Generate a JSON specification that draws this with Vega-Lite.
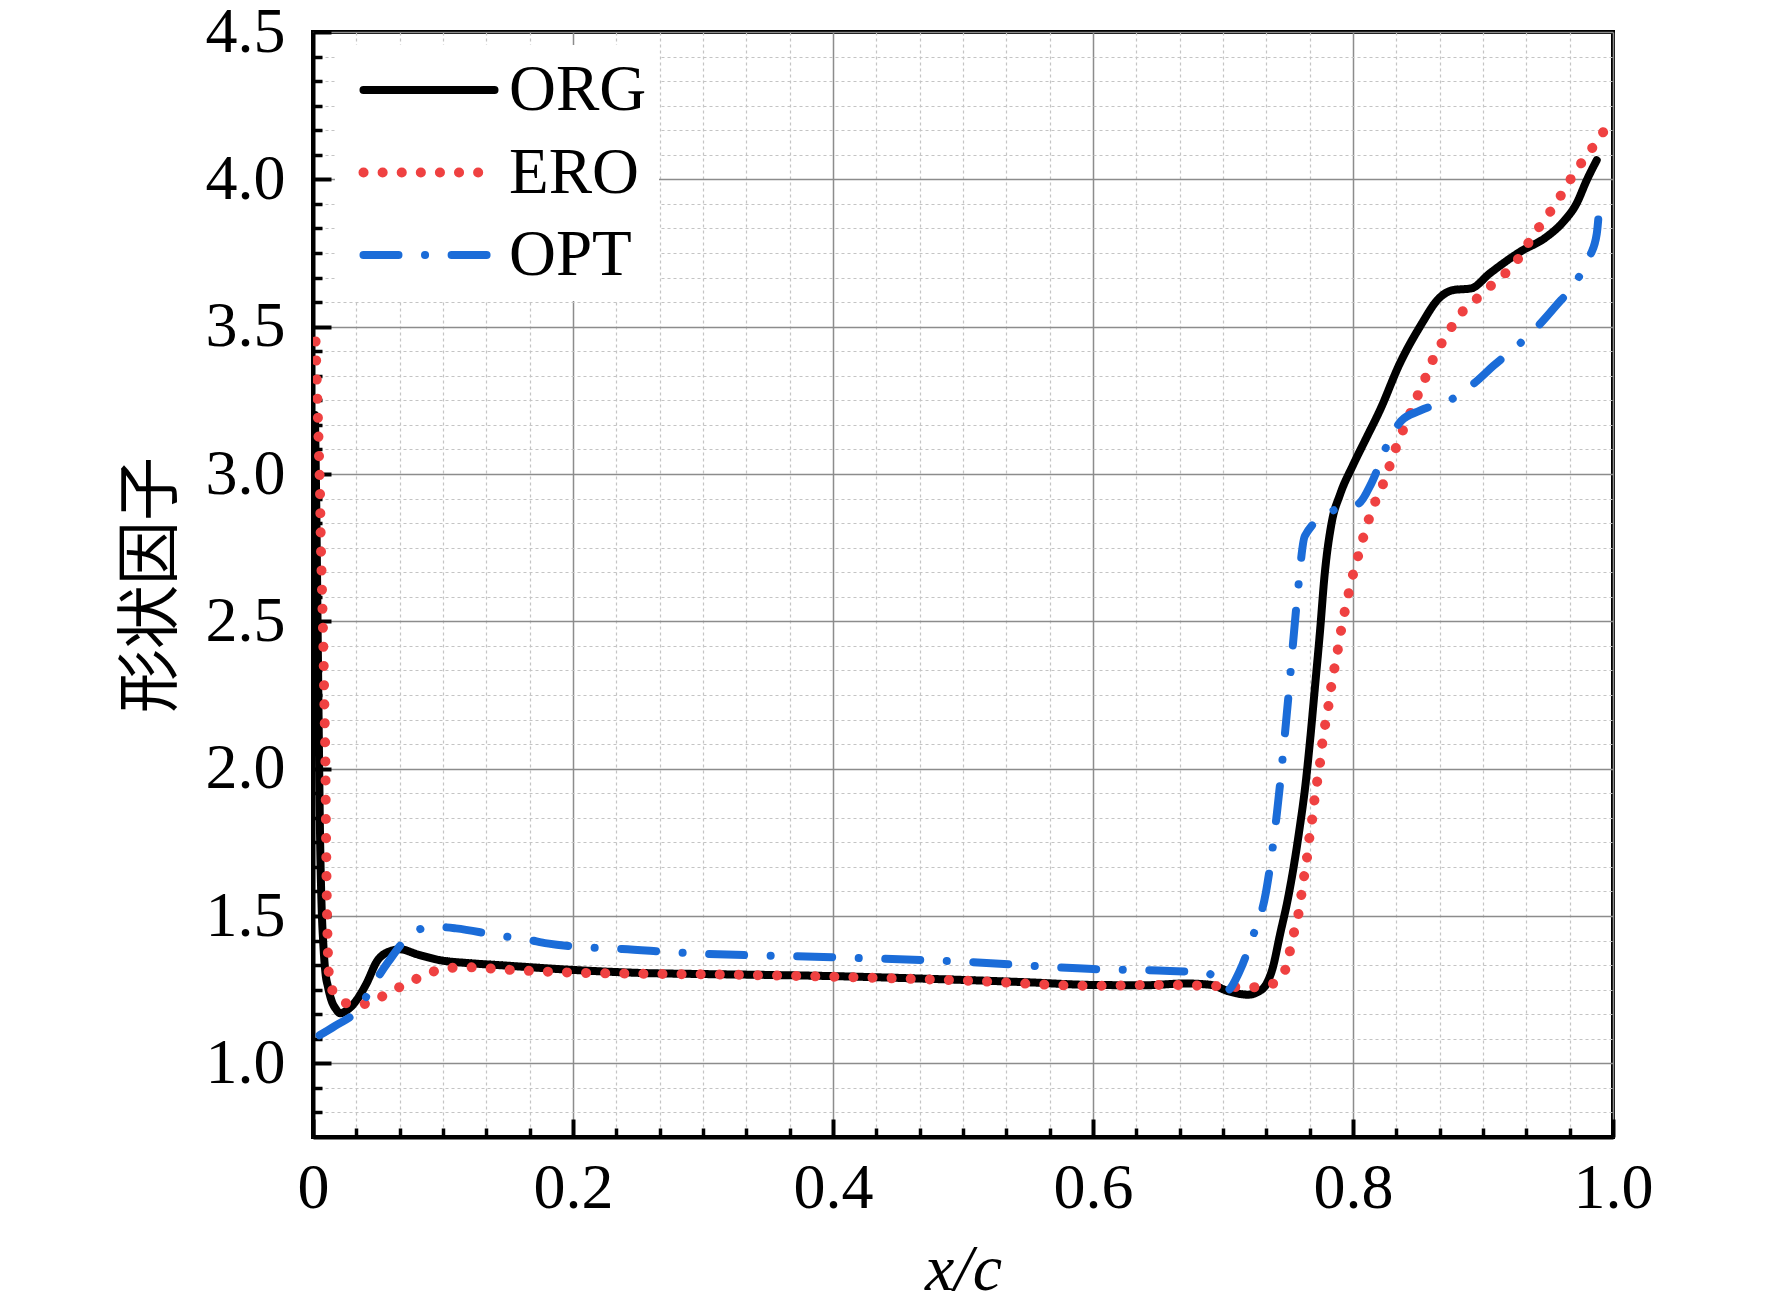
{
  "$schema": "https://vega.github.io/schema/vega-lite/v6.json",
  "width": 1300,
  "height": 1105,
  "autosize": {"type": "none"},
  "padding": {"left": 313, "top": 32, "right": 159, "bottom": 173},
  "background": "white",
  "config": {
    "view": {"stroke": "black", "strokeWidth": 4},
    "axis": {
      "labelFont": "Liberation Serif",
      "labelFontSize": 64,
      "labelColor": "black",
      "labelFlush": false,
      "labelOverlap": false,
      "tickColor": "black",
      "titleColor": "black",
      "titleFontWeight": "normal",
      "zindex": 0
    }
  },
  "data": {
    "values": [
      {"series": "ORG", "x": 0.0015, "y": 3.2},
      {"series": "ORG", "x": 0.0025, "y": 2.9},
      {"series": "ORG", "x": 0.0035, "y": 2.5},
      {"series": "ORG", "x": 0.0045, "y": 2.1},
      {"series": "ORG", "x": 0.0055, "y": 1.75},
      {"series": "ORG", "x": 0.0065, "y": 1.55},
      {"series": "ORG", "x": 0.008, "y": 1.4},
      {"series": "ORG", "x": 0.0095, "y": 1.31},
      {"series": "ORG", "x": 0.0115, "y": 1.26},
      {"series": "ORG", "x": 0.0145, "y": 1.21},
      {"series": "ORG", "x": 0.0175, "y": 1.185},
      {"series": "ORG", "x": 0.021, "y": 1.17},
      {"series": "ORG", "x": 0.026, "y": 1.18},
      {"series": "ORG", "x": 0.0336, "y": 1.215},
      {"series": "ORG", "x": 0.0413, "y": 1.272},
      {"series": "ORG", "x": 0.049, "y": 1.345},
      {"series": "ORG", "x": 0.059, "y": 1.38},
      {"series": "ORG", "x": 0.067, "y": 1.387},
      {"series": "ORG", "x": 0.08, "y": 1.37},
      {"series": "ORG", "x": 0.0977, "y": 1.35},
      {"series": "ORG", "x": 0.12, "y": 1.34},
      {"series": "ORG", "x": 0.144, "y": 1.333},
      {"series": "ORG", "x": 0.2, "y": 1.317},
      {"series": "ORG", "x": 0.25, "y": 1.307},
      {"series": "ORG", "x": 0.3, "y": 1.303},
      {"series": "ORG", "x": 0.35, "y": 1.3},
      {"series": "ORG", "x": 0.4, "y": 1.296},
      {"series": "ORG", "x": 0.45, "y": 1.29},
      {"series": "ORG", "x": 0.5, "y": 1.283},
      {"series": "ORG", "x": 0.55, "y": 1.275},
      {"series": "ORG", "x": 0.6, "y": 1.266},
      {"series": "ORG", "x": 0.64, "y": 1.265},
      {"series": "ORG", "x": 0.671, "y": 1.271},
      {"series": "ORG", "x": 0.691, "y": 1.266},
      {"series": "ORG", "x": 0.704, "y": 1.245},
      {"series": "ORG", "x": 0.719, "y": 1.233},
      {"series": "ORG", "x": 0.728, "y": 1.245},
      {"series": "ORG", "x": 0.7335, "y": 1.27},
      {"series": "ORG", "x": 0.738, "y": 1.32},
      {"series": "ORG", "x": 0.744, "y": 1.44},
      {"series": "ORG", "x": 0.75, "y": 1.56},
      {"series": "ORG", "x": 0.759, "y": 1.8},
      {"series": "ORG", "x": 0.7635, "y": 1.948},
      {"series": "ORG", "x": 0.767, "y": 2.097},
      {"series": "ORG", "x": 0.7708, "y": 2.28},
      {"series": "ORG", "x": 0.7746, "y": 2.465},
      {"series": "ORG", "x": 0.778, "y": 2.65},
      {"series": "ORG", "x": 0.7836, "y": 2.835},
      {"series": "ORG", "x": 0.79, "y": 2.93},
      {"series": "ORG", "x": 0.8, "y": 3.03},
      {"series": "ORG", "x": 0.81, "y": 3.12},
      {"series": "ORG", "x": 0.8208, "y": 3.217},
      {"series": "ORG", "x": 0.836, "y": 3.375},
      {"series": "ORG", "x": 0.8515, "y": 3.5},
      {"series": "ORG", "x": 0.867, "y": 3.6},
      {"series": "ORG", "x": 0.877, "y": 3.624},
      {"series": "ORG", "x": 0.891, "y": 3.63},
      {"series": "ORG", "x": 0.905, "y": 3.68},
      {"series": "ORG", "x": 0.9285, "y": 3.754},
      {"series": "ORG", "x": 0.949, "y": 3.805},
      {"series": "ORG", "x": 0.9618, "y": 3.856},
      {"series": "ORG", "x": 0.972, "y": 3.918},
      {"series": "ORG", "x": 0.9798, "y": 3.997},
      {"series": "ORG", "x": 0.9875, "y": 4.065},

      {"series": "ERO", "x": 0.002, "y": 3.45},
      {"series": "ERO", "x": 0.0033, "y": 3.26},
      {"series": "ERO", "x": 0.0046, "y": 3.066},
      {"series": "ERO", "x": 0.0054, "y": 2.935},
      {"series": "ERO", "x": 0.0059, "y": 2.8},
      {"series": "ERO", "x": 0.0069, "y": 2.61},
      {"series": "ERO", "x": 0.0079, "y": 2.43},
      {"series": "ERO", "x": 0.0087, "y": 2.23},
      {"series": "ERO", "x": 0.0095, "y": 2.03},
      {"series": "ERO", "x": 0.01, "y": 1.79},
      {"series": "ERO", "x": 0.0105, "y": 1.59},
      {"series": "ERO", "x": 0.011, "y": 1.46},
      {"series": "ERO", "x": 0.0118, "y": 1.337},
      {"series": "ERO", "x": 0.013, "y": 1.27},
      {"series": "ERO", "x": 0.017, "y": 1.235},
      {"series": "ERO", "x": 0.0228, "y": 1.21},
      {"series": "ERO", "x": 0.03, "y": 1.2},
      {"series": "ERO", "x": 0.037, "y": 1.2},
      {"series": "ERO", "x": 0.049, "y": 1.218},
      {"series": "ERO", "x": 0.061, "y": 1.246},
      {"series": "ERO", "x": 0.074, "y": 1.275},
      {"series": "ERO", "x": 0.088, "y": 1.303},
      {"series": "ERO", "x": 0.101, "y": 1.322},
      {"series": "ERO", "x": 0.1185, "y": 1.326},
      {"series": "ERO", "x": 0.148, "y": 1.318},
      {"series": "ERO", "x": 0.2, "y": 1.308},
      {"series": "ERO", "x": 0.25, "y": 1.304},
      {"series": "ERO", "x": 0.3, "y": 1.302},
      {"series": "ERO", "x": 0.4, "y": 1.294},
      {"series": "ERO", "x": 0.5, "y": 1.281},
      {"series": "ERO", "x": 0.6, "y": 1.263},
      {"series": "ERO", "x": 0.65, "y": 1.266},
      {"series": "ERO", "x": 0.69, "y": 1.263},
      {"series": "ERO", "x": 0.72, "y": 1.258},
      {"series": "ERO", "x": 0.7355, "y": 1.266},
      {"series": "ERO", "x": 0.7465, "y": 1.303},
      {"series": "ERO", "x": 0.7505, "y": 1.362},
      {"series": "ERO", "x": 0.7537, "y": 1.428},
      {"series": "ERO", "x": 0.757, "y": 1.486},
      {"series": "ERO", "x": 0.759, "y": 1.53},
      {"series": "ERO", "x": 0.761, "y": 1.596},
      {"series": "ERO", "x": 0.7633, "y": 1.66},
      {"series": "ERO", "x": 0.7654, "y": 1.723},
      {"series": "ERO", "x": 0.767, "y": 1.787},
      {"series": "ERO", "x": 0.7693, "y": 1.85},
      {"series": "ERO", "x": 0.771, "y": 1.92},
      {"series": "ERO", "x": 0.7734, "y": 1.98},
      {"series": "ERO", "x": 0.7755, "y": 2.05},
      {"series": "ERO", "x": 0.777, "y": 2.11},
      {"series": "ERO", "x": 0.78, "y": 2.18},
      {"series": "ERO", "x": 0.782, "y": 2.24},
      {"series": "ERO", "x": 0.784, "y": 2.3},
      {"series": "ERO", "x": 0.787, "y": 2.37},
      {"series": "ERO", "x": 0.7897, "y": 2.44},
      {"series": "ERO", "x": 0.7923, "y": 2.506},
      {"series": "ERO", "x": 0.7954, "y": 2.567},
      {"series": "ERO", "x": 0.7982, "y": 2.628},
      {"series": "ERO", "x": 0.802, "y": 2.69},
      {"series": "ERO", "x": 0.806, "y": 2.755},
      {"series": "ERO", "x": 0.81, "y": 2.816},
      {"series": "ERO", "x": 0.8143, "y": 2.874},
      {"series": "ERO", "x": 0.82, "y": 2.936},
      {"series": "ERO", "x": 0.8254, "y": 2.99},
      {"series": "ERO", "x": 0.8298, "y": 3.05},
      {"series": "ERO", "x": 0.834, "y": 3.1},
      {"series": "ERO", "x": 0.8395, "y": 3.16},
      {"series": "ERO", "x": 0.8454, "y": 3.22},
      {"series": "ERO", "x": 0.851, "y": 3.28},
      {"series": "ERO", "x": 0.857, "y": 3.34},
      {"series": "ERO", "x": 0.8626, "y": 3.4},
      {"series": "ERO", "x": 0.869, "y": 3.45},
      {"series": "ERO", "x": 0.876, "y": 3.5},
      {"series": "ERO", "x": 0.884, "y": 3.55},
      {"series": "ERO", "x": 0.894, "y": 3.59},
      {"series": "ERO", "x": 0.905, "y": 3.635},
      {"series": "ERO", "x": 0.917, "y": 3.68},
      {"series": "ERO", "x": 0.927, "y": 3.73},
      {"series": "ERO", "x": 0.935, "y": 3.785},
      {"series": "ERO", "x": 0.943, "y": 3.837},
      {"series": "ERO", "x": 0.952, "y": 3.892},
      {"series": "ERO", "x": 0.96, "y": 3.946},
      {"series": "ERO", "x": 0.97, "y": 4.019},
      {"series": "ERO", "x": 0.978, "y": 4.07},
      {"series": "ERO", "x": 0.987, "y": 4.125},
      {"series": "ERO", "x": 0.997, "y": 4.19},

      {"series": "OPT", "x": 0.005, "y": 1.095},
      {"series": "OPT", "x": 0.017, "y": 1.127},
      {"series": "OPT", "x": 0.036, "y": 1.19},
      {"series": "OPT", "x": 0.046, "y": 1.265},
      {"series": "OPT", "x": 0.058, "y": 1.345},
      {"series": "OPT", "x": 0.076, "y": 1.44},
      {"series": "OPT", "x": 0.092, "y": 1.464},
      {"series": "OPT", "x": 0.11, "y": 1.458},
      {"series": "OPT", "x": 0.141, "y": 1.435},
      {"series": "OPT", "x": 0.165, "y": 1.42},
      {"series": "OPT", "x": 0.18, "y": 1.407},
      {"series": "OPT", "x": 0.21, "y": 1.394},
      {"series": "OPT", "x": 0.238, "y": 1.388},
      {"series": "OPT", "x": 0.28, "y": 1.376},
      {"series": "OPT", "x": 0.4, "y": 1.36},
      {"series": "OPT", "x": 0.5, "y": 1.345},
      {"series": "OPT", "x": 0.6, "y": 1.32},
      {"series": "OPT", "x": 0.65, "y": 1.315},
      {"series": "OPT", "x": 0.688, "y": 1.307},
      {"series": "OPT", "x": 0.703, "y": 1.247},
      {"series": "OPT", "x": 0.7125, "y": 1.31},
      {"series": "OPT", "x": 0.722, "y": 1.42},
      {"series": "OPT", "x": 0.733, "y": 1.58},
      {"series": "OPT", "x": 0.7415, "y": 1.85},
      {"series": "OPT", "x": 0.75, "y": 2.23},
      {"series": "OPT", "x": 0.757, "y": 2.575},
      {"series": "OPT", "x": 0.763, "y": 2.79},
      {"series": "OPT", "x": 0.785, "y": 2.877},
      {"series": "OPT", "x": 0.8045, "y": 2.9},
      {"series": "OPT", "x": 0.8143, "y": 2.97},
      {"series": "OPT", "x": 0.8264, "y": 3.1},
      {"series": "OPT", "x": 0.837, "y": 3.18},
      {"series": "OPT", "x": 0.8515, "y": 3.215},
      {"series": "OPT", "x": 0.878, "y": 3.259},
      {"series": "OPT", "x": 0.8946, "y": 3.313},
      {"series": "OPT", "x": 0.908, "y": 3.367},
      {"series": "OPT", "x": 0.9285, "y": 3.443},
      {"series": "OPT", "x": 0.943, "y": 3.505},
      {"series": "OPT", "x": 0.9554, "y": 3.567},
      {"series": "OPT", "x": 0.973, "y": 3.663},
      {"series": "OPT", "x": 0.9823, "y": 3.74},
      {"series": "OPT", "x": 0.9875, "y": 3.815},
      {"series": "OPT", "x": 0.99, "y": 3.945}
    ]
  },
  "layer": [
    {
      "mark": {"type": "point", "opacity": 0},
      "encoding": {
        "x": {
          "field": "x",
          "type": "quantitative",
          "scale": {"domain": [0, 1], "nice": false, "zero": false},
          "axis": {
            "orient": "bottom",
            "title": null,
            "values": [0.03333, 0.06667, 0.1, 0.13333, 0.16667, 0.23333, 0.26667, 0.3, 0.33333, 0.36667, 0.43333, 0.46667, 0.5, 0.53333, 0.56667, 0.63333, 0.66667, 0.7, 0.73333, 0.76667, 0.83333, 0.86667, 0.9, 0.93333, 0.96667],
            "labels": false,
            "domain": false,
            "tickSize": -9,
            "tickWidth": 3.5,
            "grid": true,
            "gridColor": "#c4c4c4",
            "gridDash": [3, 3],
            "gridWidth": 1.2
          }
        },
        "y": {
          "field": "y",
          "type": "quantitative",
          "scale": {"domain": [0.75, 4.5], "nice": false, "zero": false},
          "axis": {
            "orient": "left",
            "title": null,
            "values": [0.83333, 0.91667, 1.08333, 1.16667, 1.25, 1.33333, 1.41667, 1.58333, 1.66667, 1.75, 1.83333, 1.91667, 2.08333, 2.16667, 2.25, 2.33333, 2.41667, 2.58333, 2.66667, 2.75, 2.83333, 2.91667, 3.08333, 3.16667, 3.25, 3.33333, 3.41667, 3.58333, 3.66667, 3.75, 3.83333, 3.91667, 4.08333, 4.16667, 4.25, 4.33333, 4.41667],
            "labels": false,
            "domain": false,
            "tickSize": -9,
            "tickWidth": 3.5,
            "grid": true,
            "gridColor": "#c4c4c4",
            "gridDash": [3, 3],
            "gridWidth": 1.2
          }
        }
      }
    },
    {
      "mark": {"type": "line", "interpolate": "monotone", "strokeCap": "round", "strokeJoin": "round", "clip": true},
      "encoding": {
        "x": {
          "field": "x",
          "type": "quantitative",
          "scale": {"domain": [0, 1], "nice": false, "zero": false},
          "axis": {
            "orient": "bottom",
            "title": "x/c",
            "titleFont": "Liberation Serif",
            "titleFontStyle": "italic",
            "titleFontSize": 66,
            "titlePadding": 17,
            "values": [0, 0.2, 0.4, 0.6, 0.8, 1],
            "labelExpr": "datum.value === 0 ? '0' : format(datum.value, '.1f')",
            "labelPadding": 37,
            "domain": true,
            "domainColor": "black",
            "domainWidth": 4,
            "tickSize": -18,
            "tickWidth": 4,
            "grid": true,
            "gridColor": "#8c8c8c",
            "gridWidth": 1.5
          }
        },
        "y": {
          "field": "y",
          "type": "quantitative",
          "scale": {"domain": [0.75, 4.5], "nice": false, "zero": false},
          "axis": {
            "orient": "left",
            "title": "形状因子",
            "titleFont": "Noto Sans CJK SC",
            "titleFontSize": 64,
            "titlePadding": 22,
            "values": [1, 1.5, 2, 2.5, 3, 3.5, 4, 4.5],
            "format": ".1f",
            "labelPadding": 46,
            "domain": true,
            "domainColor": "black",
            "domainWidth": 4,
            "tickSize": -18,
            "tickWidth": 4,
            "grid": true,
            "gridColor": "#8c8c8c",
            "gridWidth": 1.5
          }
        },
        "color": {
          "field": "series",
          "type": "nominal",
          "scale": {"domain": ["ORG", "ERO", "OPT"], "range": ["#000000", "#EF4141", "#1B6CD8"]},
          "legend": {
            "title": null,
            "orient": "none",
            "legendX": 22,
            "legendY": 13,
            "padding": 12.5,
            "fillColor": "white",
            "strokeColor": null,
            "symbolType": "M-4,0H4",
            "symbolSize": 1073,
            "symbolOffset": 49,
            "labelOffset": 47.5,
            "rowPadding": 16.5,
            "labelFont": "Liberation Serif",
            "labelFontSize": 65,
            "labelColor": "black",
            "encoding": {
              "symbols": {"strokeCap": {"value": "round"}, "fill": {"value": "transparent"}}
            }
          }
        },
        "strokeDash": {
          "field": "series",
          "type": "nominal",
          "scale": {"domain": ["ORG", "ERO", "OPT"], "range": [[1, 0], [0.1, 19], [35, 26.5, 0.1, 26.5]]}
        },
        "strokeWidth": {
          "field": "series",
          "type": "nominal",
          "scale": {"type": "ordinal", "domain": ["ORG", "ERO", "OPT"], "range": [8, 10, 8]}
        }
      }
    }
  ],
  "resolve": {"axis": {"x": "independent", "y": "independent"}}
}
